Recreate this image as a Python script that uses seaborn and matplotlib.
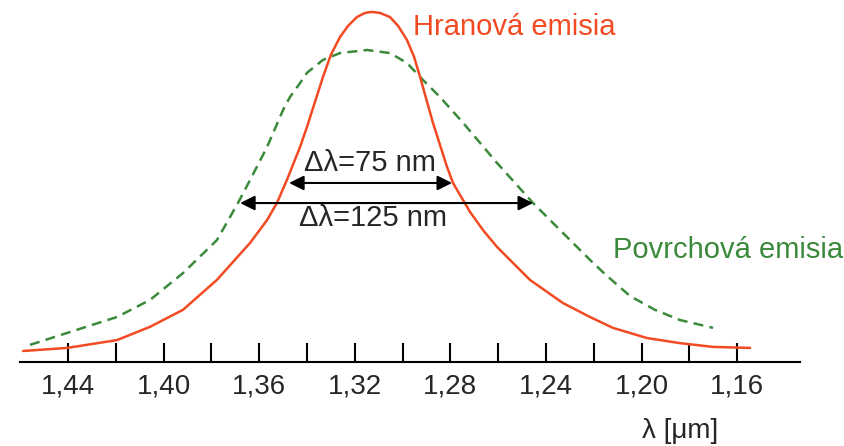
import pandas as pd
import matplotlib
matplotlib.use('Agg')
import matplotlib.pyplot as plt
import seaborn as sns

# edge emission (Hranova emisia)
edge_wl = [1.4588, 1.4404, 1.4195, 1.4057, 1.3919, 1.3777, 1.3638, 1.3567, 1.3526,
           1.3484, 1.3429, 1.3400, 1.3333, 1.3300, 1.3262, 1.3228, 1.3191, 1.3157,
           1.3128, 1.3095, 1.3053, 1.3019, 1.2982, 1.2952, 1.2927, 1.2873, 1.2814,
           1.2789, 1.2718, 1.2664, 1.2605, 1.2467, 1.2329, 1.2216, 1.2120, 1.1977,
           1.1839, 1.1701, 1.1546]
edge_int = [0.003, 0.012, 0.035, 0.074, 0.124, 0.212, 0.321, 0.388, 0.438,
            0.506, 0.603, 0.662, 0.809, 0.874, 0.926, 0.959, 0.985, 0.997,
            1.000, 0.997, 0.985, 0.959, 0.918, 0.868, 0.809, 0.674, 0.544,
            0.497, 0.412, 0.359, 0.309, 0.212, 0.144, 0.103, 0.071, 0.041,
            0.026, 0.015, 0.012]

# surface emission (Povrchova emisia)
surf_wl = [1.4559, 1.4404, 1.4195, 1.4057, 1.3919, 1.3777, 1.3689, 1.3638, 1.3567,
           1.3500, 1.3471, 1.3429, 1.3400, 1.3333, 1.3262, 1.3149, 1.3053, 1.2982,
           1.2915, 1.2844, 1.2747, 1.2605, 1.2454, 1.2329, 1.2216, 1.2153, 1.2049,
           1.1944, 1.1839, 1.1701]
surf_int = [0.021, 0.056, 0.103, 0.153, 0.232, 0.329, 0.438, 0.506, 0.603,
            0.712, 0.750, 0.791, 0.821, 0.859, 0.879, 0.888, 0.879, 0.850,
            0.800, 0.750, 0.674, 0.556, 0.438, 0.350, 0.271, 0.229, 0.165,
            0.124, 0.094, 0.071]

tick_major = [1.44, 1.40, 1.36, 1.32, 1.28, 1.24, 1.20, 1.16]
tick_labels = ['1,44', '1,40', '1,36', '1,32', '1,28', '1,24', '1,20', '1,16']
tick_minor = [1.42, 1.38, 1.34, 1.30, 1.26, 1.22, 1.18]

# FWHM arrows: (left, right, height)
fwhm_edge = (1.3475, 1.2793, 0.497)
fwhm_surf = (1.3680, 1.2454, 0.438)

RED = '#f24a22'
GREEN = '#3b8a3b'

sns.set_style('white')
plt.rcParams['font.family'] = ['Liberation Sans', 'DejaVu Sans']

edge_df = pd.DataFrame({'wl': edge_wl, 'I': edge_int})
surf_df = pd.DataFrame({'wl': surf_wl, 'I': surf_int})

fig = plt.figure(figsize=(8.45, 4.46), dpi=100)
ax = fig.add_axes([20 / 845, 84 / 446, 780 / 845, 362 / 446])

sns.lineplot(data=surf_df, x='wl', y='I', ax=ax, color=GREEN, lw=1.8,
             sort=False, estimator=None)
ax.lines[-1].set_dashes([4, 2.5])
sns.lineplot(data=edge_df, x='wl', y='I', ax=ax, color=RED, lw=1.8,
             sort=False, estimator=None)
for ln in ax.lines:
    ln.set_solid_joinstyle('round')
    ln.set_dash_joinstyle('round')

for l, r, h in [fwhm_edge, fwhm_surf]:
    ax.annotate('', xy=(l, h), xytext=(r, h),
                arrowprops=dict(arrowstyle='<|-|>', color='black', lw=1.5,
                                mutation_scale=22, shrinkA=0, shrinkB=0))

ax.text(1.3136, 0.556, 'Δλ=75 nm', ha='center', va='center', fontsize=21)
ax.text(1.3124, 0.394, 'Δλ=125 nm', ha='center', va='center', fontsize=21)
ax.text(1.2956, 0.932, 'Hranová emisia', ha='left', va='baseline', fontsize=21, color=RED)
ax.text(1.2120, 0.276, 'Povrchová emisia', ha='left', va='baseline', fontsize=21, color=GREEN)

ax.set_xlim(1.4601, 1.1337)
ax.set_ylim(-0.0294, 1.035)
ax.set_xticks(tick_major)
ax.set_xticklabels(tick_labels)
ax.set_xticks(tick_minor, minor=True)
ax.set_yticks([])
ax.tick_params(axis='x', which='both', direction='in', length=14, width=1.5,
               bottom=True, labelsize=20, pad=8, color='black')
ax.set_xlabel('')
ax.set_ylabel('')
for s in ['top', 'right', 'left']:
    ax.spines[s].set_visible(False)
ax.spines['bottom'].set_linewidth(1.5)
ax.spines['bottom'].set_color('black')

fig.text(680 / 845, 15 / 446, 'λ [μm]', ha='center', va='center', fontsize=20)

fig.savefig('out.png', dpi=100)
